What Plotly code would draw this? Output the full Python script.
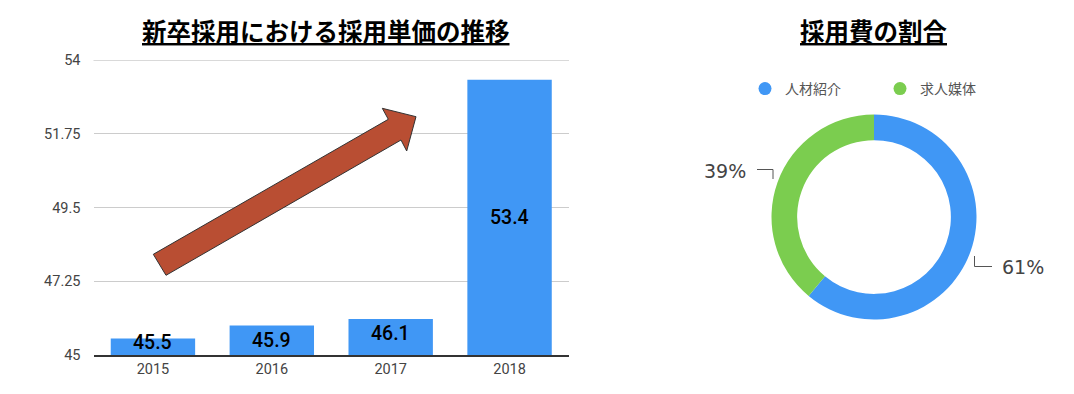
import plotly.graph_objects as go

W, H = 1074, 394

# ---- data ----
years = ["2015", "2016", "2017", "2018"]
unit_cost = [45.5, 45.9, 46.1, 53.4]
y_ticks = [45, 47.25, 49.5, 51.75, 54]
y_tick_text = ["45", "47.25", "49.5", "51.75", "54"]

cost_labels = ["人材紹介", "求人媒体"]
cost_share = [61, 39]

BLUE = "#4097f5"
GREEN = "#7bcd4f"
CJK = "Noto Sans CJK JP"

PLOT_TOP, PLOT_BOTTOM = 60, 355   # pixel rows of the bar plot area


def px(x):
    return x / W


def py(y):
    return 1 - y / H


fig = go.Figure()

fig.add_trace(go.Bar(
    x=years, y=unit_cost, marker=dict(color=BLUE, line=dict(width=0)),
    showlegend=False, hoverinfo="skip", xaxis="x", yaxis="y",
))

# legend items for the donut (circle markers) on a hidden helper axis
for name, col in zip(cost_labels, [BLUE, GREEN]):
    fig.add_trace(go.Scatter(
        x=[None], y=[None], mode="markers", name=name,
        marker=dict(color=col, size=13, symbol="circle"),
        xaxis="x2", yaxis="y2", showlegend=True, hoverinfo="skip",
    ))

fig.add_trace(go.Pie(
    labels=cost_labels, values=cost_share, hole=0.75, sort=False,
    direction="clockwise", rotation=0, textinfo="none", showlegend=False,
    marker=dict(colors=[BLUE, GREEN], line=dict(width=0)),
    domain=dict(x=[px(771.5), px(976.5)], y=[py(319.5), py(114.5)]),
    hoverinfo="skip",
))

ymin, ymax = y_ticks[0], y_ticks[-1]
ppu = (PLOT_BOTTOM - PLOT_TOP) / (ymax - ymin)  # pixels per unit
annotations = []
for i, v in enumerate(unit_cost):
    tall = (v - ymin) / (ymax - ymin) > 0.3
    if tall:
        yy, shift = (ymin + v) / 2, 0
    else:
        # label inside near the bar top, but kept above the baseline
        yy, shift = max(v, ymin + 27.5 / ppu), -14.5
    annotations.append(dict(
        x=i, y=yy, xref="x", yref="y",
        text=f"{v}", showarrow=False, yanchor="middle", yshift=shift,
        font=dict(family="Roboto", size=19.5, color="#000000", weight=500),
    ))

# titles
annotations.append(dict(
    x=px(326), y=py(31), xref="paper", yref="paper", showarrow=False,
    text="<b><u>新卒採用における採用単価の推移</u></b>",
    font=dict(family=CJK, size=24.5, color="#000"), xanchor="center", yanchor="middle",
))
annotations.append(dict(
    x=px(873), y=py(31), xref="paper", yref="paper", showarrow=False,
    text="<b><u>採用費の割合</u></b>",
    font=dict(family=CJK, size=24.5, color="#000"), xanchor="center", yanchor="middle",
))

# donut percentage labels
total = sum(cost_share)
pct = [f"{round(v / total * 100)}%" for v in cost_share]
annotations.append(dict(
    x=px(1000), y=py(267), xref="paper", yref="paper", showarrow=False,
    text=pct[0], xanchor="left", yanchor="middle",
    font=dict(family="DejaVu Sans", size=19, color="#444"),
))
annotations.append(dict(
    x=px(748), y=py(171), xref="paper", yref="paper", showarrow=False,
    text=pct[1], xanchor="right", yanchor="middle",
    font=dict(family="DejaVu Sans", size=19, color="#444"),
))

shapes = []
# top gridline (plotly skips grid lines lying on the plot edge)
shapes.append(dict(type="line", xref="x domain", yref="y", x0=0, x1=1,
                   y0=ymax, y1=ymax, layer="below",
                   line=dict(color="#cccccc", width=1.3)))
# leader lines
shapes.append(dict(type="path", xref="paper", yref="paper",
                   path=f"M{px(757)},{py(169.5)} L{px(773)},{py(169.5)} L{px(773)},{py(179)}",
                   line=dict(color="#555", width=1)))
shapes.append(dict(type="path", xref="paper", yref="paper",
                   path=f"M{px(974.5)},{py(256)} L{px(974.5)},{py(266.5)} L{px(992)},{py(266.5)}",
                   line=dict(color="#555", width=1)))

# block arrow
pts = [(153.3, 254.3), (388.3, 119.3), (382.3, 108.3), (416, 116.7),
       (406.7, 151), (401, 140), (166, 275.3)]
path = "M" + " L".join(f"{px(a)},{py(b)}" for a, b in pts) + " Z"
shapes.append(dict(type="path", xref="paper", yref="paper", path=path,
                   fillcolor="#b94e33", line=dict(color="#333", width=1)))

fig.update_layout(
    width=W, height=H, margin=dict(l=0, r=0, t=0, b=0, autoexpand=False),
    paper_bgcolor="white", plot_bgcolor="white",
    bargap=0.29,
    xaxis=dict(domain=[px(93.5), px(569)], type="category", automargin=False,
               range=[-0.5, len(years) - 0.5], showgrid=False,
               showline=True, linecolor="#333", linewidth=1.5,
               ticks="", tickfont=dict(family="Roboto", size=14.5, color="#444"),
               fixedrange=True),
    yaxis=dict(domain=[py(PLOT_BOTTOM), py(PLOT_TOP)],
               range=[ymin, ymax], automargin=False,
               tickvals=y_ticks, ticktext=y_tick_text, showgrid=True,
               gridcolor="#cccccc", gridwidth=1.3, zeroline=False,
               showline=False, ticks="", ticklabelstandoff=12,
               tickfont=dict(family="Roboto", size=14.5, color="#444"),
               fixedrange=True),
    xaxis2=dict(domain=[0.99, 1.0], visible=False, anchor="y2", automargin=False),
    yaxis2=dict(domain=[0.99, 1.0], visible=False, anchor="x2", automargin=False),
    legend=dict(orientation="h", x=px(745), y=py(89), xanchor="left", yanchor="middle",
                font=dict(family=CJK, size=14, color="#555"),
                entrywidth=90, entrywidthmode="pixels", bgcolor="rgba(0,0,0,0)"),
    annotations=annotations,
    shapes=shapes,
)

fig.write_html("out.html")
